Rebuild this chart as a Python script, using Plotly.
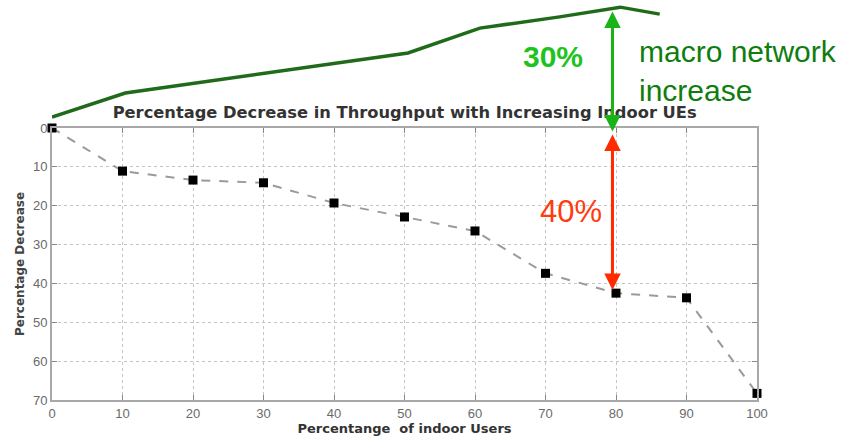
import plotly.graph_objects as go

# Data
indoor_pct = [0, 10, 20, 30, 40, 50, 60, 70, 80, 90, 100]
pct_decrease = [0, 11.1, 13.4, 14.1, 19.3, 22.9, 26.5, 37.4, 42.5, 43.7, 68.3]

# Illustrative "macro network" line drawn above the plot (same reversed scale, extended upward)
macro_x = [0, 10.4, 50.5, 60.7, 72, 80.6, 86.2]
macro_y = [-2.8, -9.0, -19.3, -25.7, -28.6, -31.1, -29.3]

x_ticks = list(range(0, 101, 10))
y_ticks = list(range(0, 71, 10))

FONT = "Liberation Sans, Arial, sans-serif"
BOLD = "DejaVu Sans, Liberation Sans, sans-serif"

fig = go.Figure()

fig.add_trace(go.Scatter(
    x=indoor_pct, y=pct_decrease, mode="lines+markers",
    line=dict(color="#9a9a9a", width=2, dash="dash"),
    marker=dict(symbol="square", size=9, color="black"),
    cliponaxis=False, showlegend=False, xaxis="x", yaxis="y",
))

fig.add_trace(go.Scatter(
    x=macro_x, y=macro_y, mode="lines",
    line=dict(color="#1f6b1a", width=3.5),
    cliponaxis=False, showlegend=False, xaxis="x2", yaxis="y2",
))

Y2_RANGE = [70, -32.94]

fig.update_layout(
    width=843, height=436,
    margin=dict(l=52, r=86, t=0, b=36, autoexpand=False),
    paper_bgcolor="white", plot_bgcolor="rgba(0,0,0,0)",
    font=dict(family=FONT),
    title=dict(
        text="<b>Percentage Decrease in Throughput with Increasing Indoor UEs</b>",
        x=0.48, xanchor="center", xref="container",
        y=1 - 112 / 436, yanchor="middle", yref="container",
        font=dict(size=16.3, color="#333333", family=BOLD),
    ),
    xaxis=dict(
        range=[0, 100], tickvals=x_ticks, domain=[0, 1], anchor="y",
        showgrid=True, gridcolor="#c4c4c4", griddash="dot", gridwidth=1,
        showline=True, linecolor="#a8a8a8", linewidth=2, mirror="ticks",
        ticks="inside", ticklen=5, tickcolor="#888888",
        tickfont=dict(size=13, color="#6a6a6a"),
        zeroline=False, automargin=False,
        title=dict(text="<b>Percentange  of indoor Users</b>", standoff=0,
                   font=dict(size=13, color="#333333", family=BOLD)),
    ),
    yaxis=dict(
        range=[70, 0], tickvals=y_ticks, domain=[0, 0.68], anchor="x",
        showgrid=True, gridcolor="#c4c4c4", griddash="dot", gridwidth=1,
        showline=True, linecolor="#a8a8a8", linewidth=2, mirror="ticks",
        ticks="inside", ticklen=5, tickcolor="#888888",
        tickfont=dict(size=13, color="#6a6a6a"),
        zeroline=False, automargin=False,
        title=dict(text="<b>Percentage Decrease</b>", standoff=6,
                   font=dict(size=12, color="#444444", family=BOLD)),
    ),
    xaxis2=dict(range=[0, 100], domain=[0, 1], anchor="y2", visible=False,
                showgrid=False, zeroline=False, automargin=False),
    yaxis2=dict(range=Y2_RANGE, domain=[0, 1], anchor="x2", visible=False,
                showgrid=False, zeroline=False, automargin=False),
)

ARROW_X = 79.5
GREEN_TOP, JOIN, RED_BOTTOM = -30.0, 1.3, 41.7

# green double arrow
fig.add_annotation(x=ARROW_X, y=GREEN_TOP, ax=ARROW_X, ay=JOIN,
                   xref="x2", yref="y2", axref="x2", ayref="y2",
                   text="", showarrow=True, arrowhead=2, arrowside="end+start",
                   arrowsize=1.1, arrowwidth=3, arrowcolor="#17b317")
# red double arrow
fig.add_annotation(x=ARROW_X, y=RED_BOTTOM, ax=ARROW_X, ay=JOIN,
                   xref="x2", yref="y2", axref="x2", ayref="y2",
                   text="", showarrow=True, arrowhead=2, arrowside="end+start",
                   arrowsize=1.1, arrowwidth=3, arrowcolor="#ff2a00")

fig.add_annotation(x=71.1, y=-18.3, xref="x2", yref="y2", text="<b>30%</b>",
                   showarrow=False, font=dict(size=30, color="#1ec31e", family=FONT))
fig.add_annotation(x=73.6, y=21.4, xref="x2", yref="y2", text="40%",
                   showarrow=False, font=dict(size=31, color="#ff3b0f", family=FONT))
fig.add_annotation(x=83.0, y=-14.6, xref="x2", yref="y2",
                   text="macro network<br>increase", align="left",
                   xanchor="left", showarrow=False,
                   font=dict(size=30, color="#0f7d0f", family=FONT))

fig.write_html("out.html", config={"displayModeBar": False},
               post_script="document.body.style.margin='0';")
